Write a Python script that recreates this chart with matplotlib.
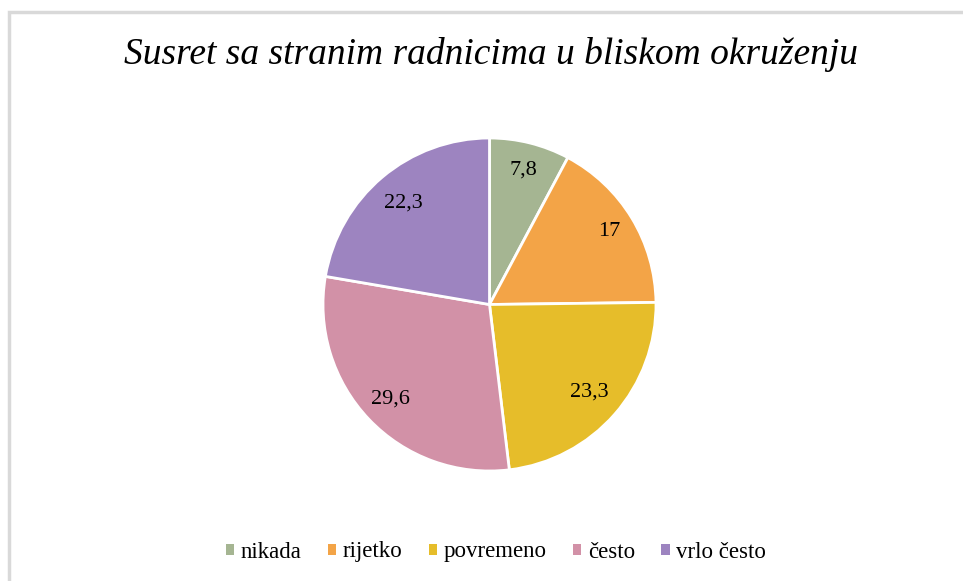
import matplotlib.pyplot as plt
import matplotlib.patches as mpatches
import numpy as np

kategorije = ['nikada', 'rijetko', 'povremeno', 'često', 'vrlo često']
postoci = [7.8, 17, 23.3, 29.6, 22.3]
oznake = ['7,8', '17', '23,3', '29,6', '22,3']
boje = ['#a5b592', '#f3a447', '#e6bd2a', '#d291a7', '#9d84c0']

def main():
    fig = plt.figure(figsize=(9.63, 5.81), dpi=100)
    fig.patch.set_facecolor('white')

    # okvir grafikona (lijevi i gornji rub vidljivi)
    okvir = mpatches.Rectangle((9 / 963, -0.05), 1.05, 1 - 12 / 581 + 0.05,
                               transform=fig.transFigure, fill=False,
                               edgecolor='#d9d9d9', linewidth=2.5)
    fig.patches.append(okvir)

    cx, cy, r = 489.5, 581 - 304.5, 166.5
    ax = fig.add_axes([(cx - r) / 963, (cy - r) / 581, 2 * r / 963, 2 * r / 581])
    wedges, _ = ax.pie(postoci, colors=boje, startangle=90, counterclock=False,
                       radius=1, wedgeprops=dict(edgecolor='white', linewidth=2))
    ax.set_xlim(-1, 1); ax.set_ylim(-1, 1)
    ax.set_aspect('equal')
    ax.axis('off')

    udaljenost = [0.83, 0.84, 0.80, 0.82, 0.80]
    for w, txt, d in zip(wedges, oznake, udaljenost):
        kut = np.deg2rad((w.theta1 + w.theta2) / 2)
        ax.text(d * np.cos(kut), d * np.sin(kut), txt, ha='center', va='center',
                fontsize=16, family='Liberation Serif', color='black')

    fig.text(491 / 963, 1 - 55 / 581, 'Susret sa stranim radnicima u bliskom okruženju',
             ha='center', va='center', fontsize=27, style='italic',
             family='Liberation Serif', color='black')

    ruke = [mpatches.Patch(facecolor=c, edgecolor='none', label=k)
            for k, c in zip(kategorije, boje)]
    fig.legend(handles=ruke, loc='center', bbox_to_anchor=(496 / 963, 1 - 552 / 581),
               ncol=5, frameon=False, handlelength=0.35, handleheight=0.35,
               handletextpad=0.3, columnspacing=1.15,
               prop={'family': 'Liberation Serif', 'size': 16.5})

    plt.savefig('out.png', dpi=100)
    plt.close()

if __name__ == '__main__':
    main()
